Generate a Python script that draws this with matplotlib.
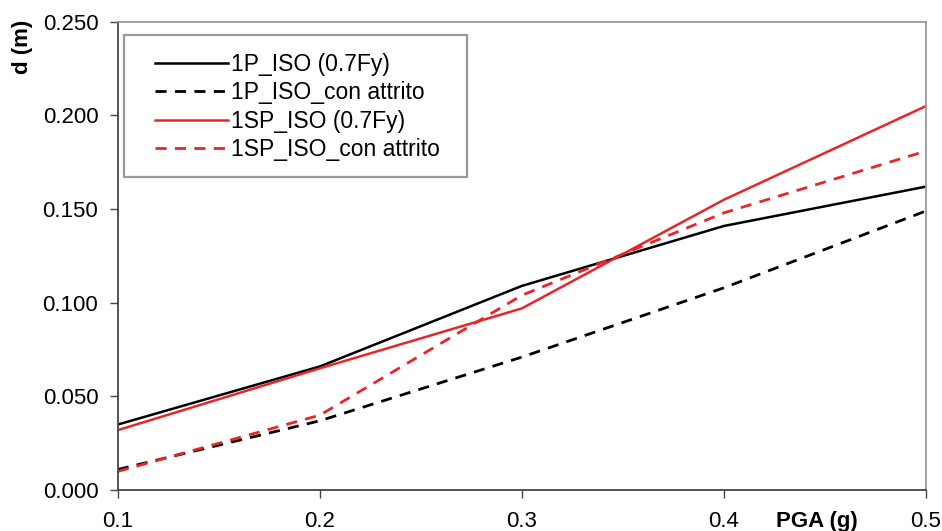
import matplotlib.pyplot as plt
from matplotlib.patches import Rectangle
import numpy as np

plt.rcParams['font.family'] = ['Liberation Sans', 'DejaVu Sans']

pga = [0.1, 0.2, 0.3, 0.4, 0.5]
p_iso = [0.035, 0.066, 0.109, 0.141, 0.162]
p_iso_attrito = [0.011, 0.037, 0.071, 0.108, 0.149]
sp_iso = [0.032, 0.065, 0.097, 0.155, 0.205]
sp_iso_attrito = [0.010, 0.040, 0.104, 0.148, 0.181]

labels = ["1P_ISO (0.7Fy)", "1P_ISO_con attrito", "1SP_ISO (0.7Fy)", "1SP_ISO_con attrito"]
red = '#e8262a'

fig = plt.figure(figsize=(9.42, 5.31), dpi=100)
ax = fig.add_axes((0.125, 0.077, 0.858, 0.882))

ax.plot(pga, p_iso, color='black', lw=1.8, label=labels[0])
ax.plot(pga, p_iso_attrito, color='black', lw=2.0, dashes=(4, 3), label=labels[1])
ax.plot(pga, sp_iso, color=red, lw=1.8, label=labels[2])
ax.plot(pga, sp_iso_attrito, color=red, lw=2.0, dashes=(4, 3), label=labels[3])

ax.set_xlim(0.1, 0.5)
ax.set_ylim(0, 0.25)
ax.set_xticks([0.1, 0.2, 0.3, 0.4, 0.5])
ax.set_xticklabels(['0.1', '0.2', '0.3', '0.4', '0.5'])
ax.set_yticks(np.arange(0, 0.26, 0.05))
ax.set_yticklabels(['%.3f' % v for v in np.arange(0, 0.26, 0.05)])
ax.tick_params(axis='both', direction='out', length=6, width=1, labelsize=16, color='#444444')
ax.tick_params(axis='x', pad=9)
ax.tick_params(axis='y', pad=8)

ax.spines['left'].set_color('#444444')
ax.spines['bottom'].set_color('#444444')
ax.spines['top'].set_color('#999999')
ax.spines['right'].set_color('#999999')
for s in ax.spines.values():
    s.set_linewidth(1.3)

fig.text(0.013, 0.962, 'd (m)', rotation=90, ha='left', va='top', fontsize=16, fontweight='bold')
fig.text(0.911, 0.008, 'PGA (g)', ha='right', va='baseline', fontsize=16, fontweight='bold')

# legend box drawn separately so the horizontal padding can be wider
fig.patches.append(Rectangle((0.1316, 0.6667), 0.3642, 0.2673, transform=fig.transFigure,
                             fill=False, edgecolor='#999999', lw=1.6, zorder=5))
leg = ax.legend(loc='upper left', bbox_to_anchor=(0.1645, 0.900), bbox_transform=fig.transFigure,
                fontsize=16.5, frameon=False, handlelength=3.2, handletextpad=0.1,
                borderpad=0, labelspacing=0.235, borderaxespad=0)

fig.savefig('out.png', dpi=100)
